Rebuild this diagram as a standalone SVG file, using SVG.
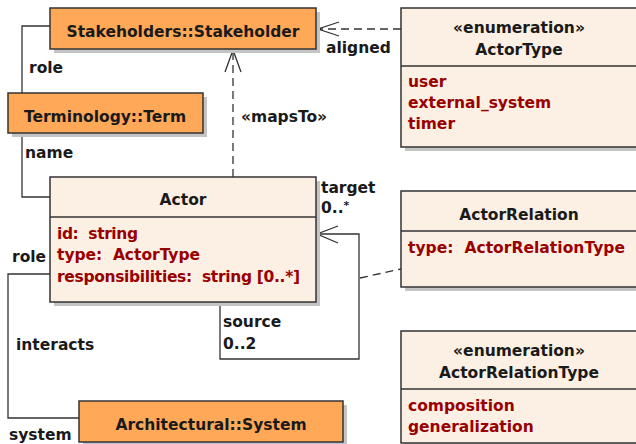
<svg xmlns="http://www.w3.org/2000/svg" width="636" height="444" viewBox="0 0 636 444">
  <style>
    .box { stroke: #333; stroke-width: 1.5; }
    .ext { fill: #FFA858; }
    .cls { fill: #FBF0E3; }
    .shadow { fill: #C4C4C4; }
    .div { stroke: #333; stroke-width: 1.5; }
    text { font-family: "DejaVu Sans", "Liberation Sans", sans-serif; font-weight: bold; font-size: 15.5px; fill: #1a1a1a; white-space: pre; }
    .c { text-anchor: middle; }
    .attr { fill: #990000; }
    .edge { fill: none; stroke: #333; stroke-width: 1.3; }
    .dash { stroke-dasharray: 8 5; }
  </style>

  <!-- connectors -->
  <g id="connectors">
    <!-- Stakeholder role -> Term -->
    <polyline class="edge" points="50,26 22,26 22,93"/>
    <text x="29" y="73">role</text>
    <!-- Term name -> Actor -->
    <polyline class="edge" points="22,133 22,197 50,197"/>
    <text x="25" y="158">name</text>
    <!-- mapsTo dependency -->
    <line class="edge dash" x1="233" y1="177" x2="233" y2="51"/>
    <polyline class="edge" points="225,72 233,50 241,72"/>
    <circle cx="233" cy="51" r="1.8" fill="#222"/>
    <text x="241" y="122">«mapsTo»</text>
    <!-- aligned dependency -->
    <line class="edge dash" x1="401" y1="29" x2="318" y2="29"/>
    <polyline class="edge" points="339,22 318,29 339,36"/>
    <circle cx="319" cy="29" r="1.8" fill="#222"/>
    <text x="326" y="53">aligned</text>
    <!-- Actor self association -->
    <polyline class="edge" points="220,302 220,359 359,359 359,234 318,234"/>
    <polyline class="edge" points="338,226 317,234 338,243"/>
    <circle cx="318" cy="234" r="1.8" fill="#222"/>
    <text x="321" y="193">target</text>
    <text x="321" y="213">0..<tspan font-size="11" dy="-4">*</tspan></text>
    <text x="223" y="327">source</text>
    <text x="223" y="349">0..2</text>
    <!-- association class link -->
    <line class="edge dash" x1="360" y1="278" x2="401" y2="269" stroke-dasharray="6 4"/>
    <!-- Actor role -> System -->
    <polyline class="edge" points="50,274 8,274 8,418 79,418"/>
    <text x="12" y="262">role</text>
    <text x="16" y="350">interacts</text>
    <text x="9" y="440">system</text>
  </g>

  <g id="stakeholder">
    <rect class="shadow" x="54" y="12" width="266" height="41"/>
    <rect class="box ext" x="50" y="8" width="266" height="41"/>
    <text class="c" x="183" y="37">Stakeholders::Stakeholder</text>
  </g>

  <g id="term">
    <rect class="shadow" x="12" y="97" width="195" height="40"/>
    <rect class="box ext" x="8" y="93" width="195" height="40"/>
    <text class="c" x="105" y="122">Terminology::Term</text>
  </g>

  <g id="actor">
    <rect class="shadow" x="54" y="181" width="266" height="125"/>
    <rect class="box cls" x="50" y="177" width="266" height="125"/>
    <line class="div" x1="50" y1="217" x2="316" y2="217"/>
    <text class="c" x="183" y="205">Actor</text>
    <text class="attr" x="57" y="239" textLength="81">id:  string</text>
    <text class="attr" x="57" y="260" textLength="143">type:  ActorType</text>
    <text class="attr" x="57" y="282" textLength="243">responsibilities:  string [0..*]</text>
  </g>

  <g id="system">
    <rect class="shadow" x="83" y="405" width="264" height="41"/>
    <rect class="box ext" x="79" y="401" width="264" height="41"/>
    <text class="c" x="211" y="430">Architectural::System</text>
  </g>

  <g id="actortype">
    <rect class="shadow" x="405" y="12" width="245" height="139"/>
    <rect class="box cls" x="401" y="8" width="245" height="139"/>
    <line class="div" x1="401" y1="66" x2="646" y2="66"/>
    <text class="c" x="519" y="33">«enumeration»</text>
    <text class="c" x="519" y="55">ActorType</text>
    <text class="attr" x="408" y="87">user</text>
    <text class="attr" x="408" y="108">external_system</text>
    <text class="attr" x="408" y="129">timer</text>
  </g>

  <g id="actorrelation">
    <rect class="shadow" x="405" y="195" width="245" height="96"/>
    <rect class="box cls" x="401" y="191" width="245" height="96"/>
    <line class="div" x1="401" y1="231" x2="646" y2="231"/>
    <text class="c" x="519" y="220">ActorRelation</text>
    <text class="attr" x="408" y="253" textLength="217">type:  ActorRelationType</text>
  </g>

  <g id="actorrelationtype">
    <rect class="shadow" x="405" y="335" width="245" height="112"/>
    <rect class="box cls" x="401" y="331" width="245" height="112"/>
    <line class="div" x1="401" y1="389" x2="646" y2="389"/>
    <text class="c" x="519" y="356">«enumeration»</text>
    <text class="c" x="519" y="378">ActorRelationType</text>
    <text class="attr" x="408" y="411">composition</text>
    <text class="attr" x="408" y="432">generalization</text>
  </g>
</svg>
